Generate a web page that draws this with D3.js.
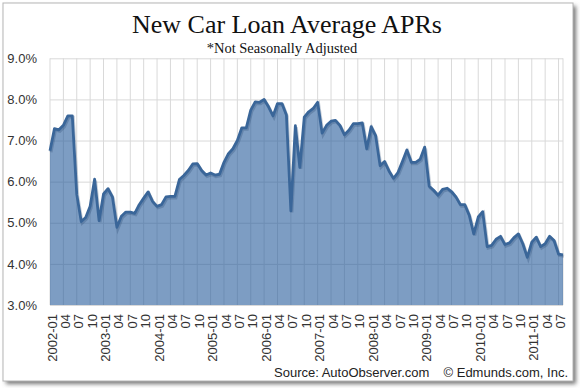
<!DOCTYPE html>
<html>
<head>
<meta charset="utf-8">
<script src="https://cdn.jsdelivr.net/npm/d3@7"></script>
<style>
  body { margin: 0; background: #fff; }
  svg { display: block; }
  .tick text { font-family: "Liberation Sans", Arial, sans-serif; font-size: 13px; fill: #333; }
</style>
</head>
<body>
<svg id="chart" width="580" height="388"></svg>
<script>
// monthly average APR (%), 2002-01 .. 2011-08
var years = [2002, 2003, 2004, 2005, 2006, 2007, 2008, 2009, 2010, 2011];
var monthNames = ["01","02","03","04","05","06","07","08","09","10","11","12"];
var apr = [
  6.75, 7.29, 7.26, 7.37, 7.60, 7.60, 5.69, 5.03, 5.13, 5.40, 6.06, 5.05,
  5.70, 5.83, 5.63, 4.89, 5.16, 5.26, 5.26, 5.23, 5.44, 5.60, 5.75, 5.52,
  5.40, 5.44, 5.63, 5.64, 5.64, 6.05, 6.15, 6.27, 6.43, 6.44, 6.27, 6.16,
  6.21, 6.16, 6.18, 6.47, 6.68, 6.80, 7.00, 7.31, 7.31, 7.74, 7.94, 7.93,
  8.00, 7.82, 7.60, 7.90, 7.90, 7.62, 5.29, 7.36, 6.35, 7.57, 7.70, 7.78,
  7.93, 7.18, 7.37, 7.47, 7.49, 7.37, 7.14, 7.25, 7.41, 7.41, 7.43, 6.80,
  7.34, 7.12, 6.39, 6.49, 6.26, 6.08, 6.22, 6.49, 6.77, 6.47, 6.47, 6.55,
  6.84, 5.89, 5.79, 5.67, 5.81, 5.84, 5.76, 5.63, 5.44, 5.44, 5.18, 4.73,
  5.14, 5.27, 4.42, 4.45, 4.60, 4.67, 4.47, 4.51, 4.64, 4.73, 4.49, 4.16,
  4.53, 4.65, 4.42, 4.49, 4.67, 4.57, 4.24, 4.22
];
var yTicks = [3, 4, 5, 6, 7, 8, 9];
var titleText = "New Car Loan Average APRs";
var subtitleText = "*Not Seasonally Adjusted";
var sourceText = "Source: AutoObserver.com";
var copyText = "\u00a9 Edmunds.com, Inc.";

var months = [];
years.forEach(function(y){
  monthNames.forEach(function(m){ months.push(y + "-" + m); });
});
months = months.slice(0, apr.length);
var data = months.map(function(m, i){ return {m: m, v: apr[i]}; });

var svg = d3.select("#chart");
var plotL = 50, plotR = 563, plotT = 58.3, plotB = 305;

// frame + shadow
var defs = svg.append("defs");
var f = defs.append("filter").attr("id","shadow").attr("x","-5%").attr("y","-5%").attr("width","115%").attr("height","115%");
f.append("feGaussianBlur").attr("stdDeviation", 2);
svg.append("rect").attr("x",6).attr("y",6).attr("width",570).attr("height",378)
  .attr("fill","#777").attr("filter","url(#shadow)");
svg.append("rect").attr("x",3).attr("y",3).attr("width",570).attr("height",378)
  .attr("fill","#fff").attr("stroke","#b5b5b5");

var x = d3.scalePoint().domain(months).range([plotL, plotR]);
var y = d3.scaleLinear().domain([3, 9]).range([plotB, plotT]);

// grid
var quarterMonths = months.filter(function(m, i){ return i % 3 === 0; });
svg.append("g").selectAll("line").data(quarterMonths).enter().append("line")
  .attr("x1", d => x(d)).attr("x2", d => x(d))
  .attr("y1", plotT).attr("y2", plotB)
  .attr("stroke", "#d9d9d9").attr("stroke-width", 1);
svg.append("line").attr("x1", plotR).attr("x2", plotR).attr("y1", plotT).attr("y2", plotB)
  .attr("stroke", "#d9d9d9");

var yAxis = d3.axisLeft(y).tickValues(yTicks)
  .tickFormat(d => d3.format(".1f")(d) + "%")
  .tickSize(-(plotR - plotL)).tickPadding(13);
var yg = svg.append("g").attr("transform", "translate(" + plotL + ",0)").call(yAxis);
yg.select(".domain").remove();
yg.selectAll(".tick line").attr("stroke", "#d9d9d9");

// area + line
var area = d3.area().x(d => x(d.m)).y0(y(3)).y1(d => y(d.v));
var line = d3.line().x(d => x(d.m)).y(d => y(d.v));
svg.append("path").datum(data).attr("d", area)
  .attr("fill", "rgb(38,92,155)").attr("fill-opacity", 0.6);
svg.append("path").datum(data).attr("d", line)
  .attr("fill", "none").attr("stroke", "#1f3f66").attr("stroke-opacity", 0.25)
  .attr("stroke-width", 3).attr("transform", "translate(1,1.5)");
svg.append("path").datum(data).attr("d", line)
  .attr("fill", "none").attr("stroke", "#3a6699").attr("stroke-width", 2.8)
  .attr("stroke-linejoin", "round");

// x axis labels
var xAxis = d3.axisBottom(x).tickValues(quarterMonths)
  .tickFormat(d => d.slice(5) === "01" ? d : d.slice(5))
  .tickSize(0).tickPadding(0);
var xg = svg.append("g").attr("transform", "translate(0," + plotB + ")").call(xAxis);
xg.select(".domain").remove();
xg.selectAll(".tick text")
  .attr("transform", "rotate(-90)")
  .attr("x", -9).attr("y", 1.5).attr("dy", "0.35em")
  .attr("text-anchor", "end");

// titles
svg.append("text").attr("x", 287).attr("y", 33).attr("text-anchor", "middle")
  .attr("font-family", "'Liberation Serif', 'DejaVu Serif', serif").attr("font-size", 26)
  .attr("fill", "#111").text(titleText);
svg.append("text").attr("x", 282).attr("y", 52.5).attr("text-anchor", "middle")
  .attr("font-family", "'Liberation Serif', 'DejaVu Serif', serif").attr("font-size", 14.5)
  .attr("fill", "#111").text(subtitleText);

// footer
svg.append("text").attr("x", 274).attr("y", 377)
  .attr("font-family", "'Liberation Sans', Arial, sans-serif").attr("font-size", 13)
  .attr("fill", "#222").text(sourceText);
svg.append("text").attr("x", 568).attr("y", 377).attr("text-anchor", "end")
  .attr("font-family", "'Liberation Sans', Arial, sans-serif").attr("font-size", 13)
  .attr("fill", "#222").text(copyText);
</script>
</body>
</html>
